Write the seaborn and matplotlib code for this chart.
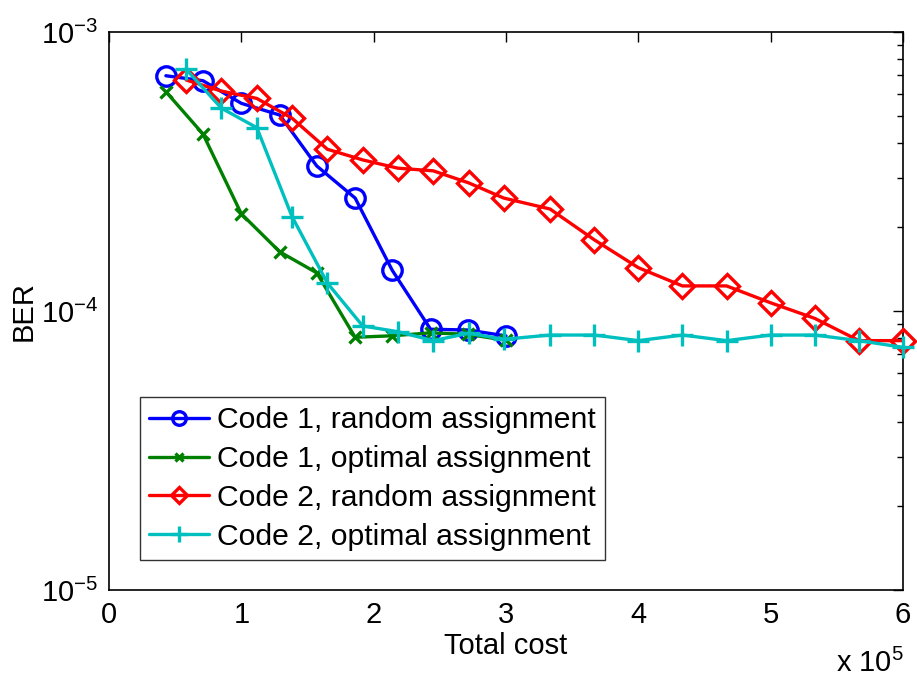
import numpy as np
import pandas as pd
import matplotlib
matplotlib.use("Agg")
import matplotlib.pyplot as plt
import seaborn as sns
from matplotlib.ticker import FuncFormatter, LogLocator, FixedLocator, NullFormatter

# Total cost values and measured bit error rates
code1_random_cost = [0.43e5, 0.71e5, 1.00e5, 1.29e5, 1.57e5, 1.86e5, 2.14e5, 2.43e5, 2.71e5, 3.00e5]
code1_random_ber = [6.97e-4, 6.69e-4, 5.55e-4, 5.04e-4, 3.31e-4, 2.54e-4, 1.40e-4, 8.60e-5, 8.55e-5, 8.14e-5]

code1_optimal_cost = [0.43e5, 0.71e5, 1.00e5, 1.29e5, 1.57e5, 1.86e5, 2.14e5, 2.43e5, 2.71e5, 3.00e5]
code1_optimal_ber = [6.11e-4, 4.31e-4, 2.23e-4, 1.63e-4, 1.37e-4, 8.05e-5, 8.15e-5, 8.35e-5, 8.25e-5, 7.85e-5]

code2_random_cost = [0.583e5, 0.85e5, 1.117e5, 1.383e5, 1.65e5, 1.917e5, 2.183e5, 2.45e5,
                     2.717e5, 2.983e5, 3.333e5, 3.667e5, 4.0e5, 4.333e5, 4.667e5, 5.0e5,
                     5.333e5, 5.667e5, 6.0e5]
code2_random_ber = [6.73e-4, 6.14e-4, 5.78e-4, 4.91e-4, 3.80e-4, 3.48e-4, 3.25e-4, 3.18e-4,
                    2.88e-4, 2.54e-4, 2.32e-4, 1.80e-4, 1.43e-4, 1.23e-4, 1.23e-4, 1.07e-4,
                    9.41e-5, 7.83e-5, 7.83e-5]

code2_optimal_cost = code2_random_cost
code2_optimal_ber = [7.35e-4, 5.33e-4, 4.54e-4, 2.18e-4, 1.26e-4, 8.84e-5, 8.43e-5, 7.83e-5,
                     8.32e-5, 7.92e-5, 8.2e-5, 8.2e-5, 7.83e-5, 8.2e-5, 7.83e-5, 8.2e-5,
                     8.2e-5, 7.83e-5, 7.41e-5]

x_ticks = [0, 1e5, 2e5, 3e5, 4e5, 5e5, 6e5]

series = [
    ("Code 1, random assignment", code1_random_cost, code1_random_ber),
    ("Code 1, optimal assignment", code1_optimal_cost, code1_optimal_ber),
    ("Code 2, random assignment", code2_random_cost, code2_random_ber),
    ("Code 2, optimal assignment", code2_optimal_cost, code2_optimal_ber),
]

styles = {
    "Code 1, random assignment": dict(color=(0, 0, 1), marker="o", markersize=14,
                                      markerfacecolor="none", markeredgewidth=2.4),
    "Code 1, optimal assignment": dict(color=(0, 0.5, 0), marker="x", markersize=9,
                                       markeredgewidth=2.4),
    "Code 2, random assignment": dict(color=(1, 0, 0), marker="D", markersize=12,
                                      markerfacecolor="none", markeredgewidth=2.4),
    "Code 2, optimal assignment": dict(color=(0, 0.75, 0.75), marker="+", markersize=16,
                                       markeredgewidth=2.4),
}

sns.set_theme(style="white")
plt.rcParams["font.family"] = ["Liberation Sans", "DejaVu Sans"]
plt.rcParams["mathtext.fontset"] = "custom"
plt.rcParams["mathtext.rm"] = "Liberation Sans"
plt.rcParams["mathtext.default"] = "regular"
for key in ("text.color", "axes.labelcolor", "xtick.color", "ytick.color", "axes.edgecolor"):
    plt.rcParams[key] = "black"

fig = plt.figure(figsize=(9.17, 6.8), dpi=100)
ax = fig.add_axes([109 / 917, 1 - 590 / 680, 794 / 917, 558 / 680])

for name, xs, ys in series:
    df = pd.DataFrame({"cost": xs, "ber": ys})
    st = styles[name]
    sns.lineplot(data=df, x="cost", y="ber", ax=ax, sort=False, label=name,
                 linewidth=2.4, color=st["color"], marker=st["marker"],
                 markersize=st["markersize"], markeredgecolor=st["color"],
                 markerfacecolor=st.get("markerfacecolor", st["color"]),
                 markeredgewidth=st["markeredgewidth"], clip_on=False, zorder=3)

ax.set_yscale("log")
ax.set_ylim(1e-5, 1e-3)
ax.set_xlim(0, 6e5)
ax.xaxis.set_major_locator(FixedLocator(x_ticks))
ax.xaxis.set_major_formatter(FuncFormatter(lambda v, p: f"{v / 1e5:g}"))
ax.yaxis.set_major_locator(LogLocator(base=10, numticks=5))
ax.yaxis.set_minor_locator(LogLocator(base=10, subs=np.arange(2, 10), numticks=20))
ax.yaxis.set_minor_formatter(NullFormatter())

ax.tick_params(axis="both", which="both", direction="in", top=True, right=True,
               labelsize=21, colors="black")
ax.tick_params(axis="both", which="major", length=7, width=1, pad=8)
ax.tick_params(axis="y", which="minor", length=4, width=1)

for sp in ax.spines.values():
    sp.set_color("black")
    sp.set_linewidth(1.2)

ax.set_xlabel("Total cost", fontsize=21, labelpad=2)
ax.set_ylabel("BER", fontsize=21, labelpad=2)
fig.text(904 / 917, 8 / 680, r"x $10^{5}$", ha="right", va="baseline", fontsize=21)

leg = ax.legend(loc="lower left", bbox_to_anchor=(0.039, 0.054), borderaxespad=0,
                fontsize=21.7, frameon=True, fancybox=False, handlelength=2.0,
                labelspacing=0.36, handletextpad=0.25, borderpad=0.3)
leg.get_frame().set_edgecolor("black")
leg.get_frame().set_linewidth(1.0)
for h in leg.legend_handles:
    h.set_markersize(h.get_markersize() * 0.7)

fig.savefig("out.png", dpi=100, facecolor="white")
